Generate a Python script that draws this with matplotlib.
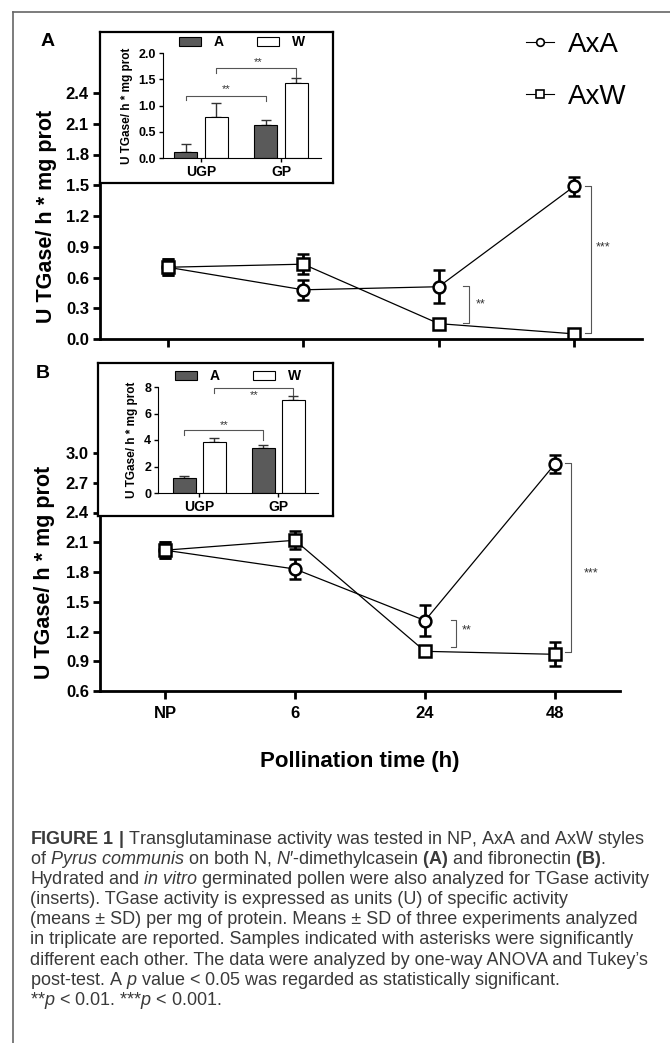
import numpy as np
import matplotlib
matplotlib.use('Agg')
import matplotlib.pyplot as plt
from matplotlib.lines import Line2D
from matplotlib.patches import Patch
from matplotlib import font_manager

names = {f.name for f in font_manager.fontManager.ttflist}
cap_font = 'Liberation Sans Narrow' if 'Liberation Sans Narrow' in names else 'Liberation Sans'

plt.rcParams['font.family'] = ['Liberation Sans', 'DejaVu Sans']
plt.rcParams['mathtext.fontset'] = 'custom'
plt.rcParams['mathtext.rm'] = cap_font
plt.rcParams['mathtext.it'] = cap_font + ':italic'
plt.rcParams['mathtext.bf'] = cap_font + ':bold'

# time course, panel A (dimethylcasein) and B (fibronectin)
times = ['NP', '6', '24', '48']
axa_A = [0.70, 0.48, 0.51, 1.49]
axa_A_sd = [0.08, 0.10, 0.16, 0.09]
axw_A = [0.70, 0.73, 0.15, 0.05]
axw_A_sd = [0.08, 0.10, 0.03, 0.02]
axa_B = [2.02, 1.83, 1.31, 2.89]
axa_B_sd = [0.08, 0.10, 0.16, 0.09]
axw_B = [2.02, 2.12, 1.00, 0.97]
axw_B_sd = [0.08, 0.09, 0.03, 0.12]

# inserts (pollen)
groups = ['UGP', 'GP']
insA_a = [0.12, 0.63]
insA_a_sd = [0.14, 0.09]
insA_w = [0.79, 1.43]
insA_w_sd = [0.25, 0.10]
insB_a = [1.10, 3.43]
insB_a_sd = [0.15, 0.20]
insB_w = [3.88, 7.03]
insB_w_sd = [0.25, 0.30]

W, H = 670, 1043
fig = plt.figure(figsize=(W / 100, H / 100), dpi=100)


def rect(x0, y0, x1, y1):
    # pixel box (top-left origin) -> figure fraction
    return [x0 / W, 1 - y1 / H, (x1 - x0) / W, (y1 - y0) / H]


ylab = 'U TGase/ h * mg prot'
x = np.arange(len(times))


def main_panel(ax, axa, axa_sd, axw, axw_sd, ylim, ticks, labx):
    kw = dict(color='black', lw=0.9, mfc='white', mec='black', mew=1.8,
              ecolor='black', elinewidth=2, capsize=4, capthick=2)
    ax.errorbar(x, axa, yerr=axa_sd, fmt='-o', ms=8.5, **kw)
    ax.errorbar(x, axw, yerr=axw_sd, fmt='-s', ms=8, **kw)
    ax.set_xlim(-0.5, 3.5)
    ax.set_ylim(*ylim)
    ax.set_yticks(ticks)
    ax.set_yticklabels(['%.1f' % t for t in ticks])
    ax.set_xticks(x)
    ax.set_xticklabels(times if labx else [])
    for s in ['top', 'right']:
        ax.spines[s].set_visible(False)
    for s in ['left', 'bottom']:
        ax.spines[s].set_linewidth(2)
    ax.tick_params(width=2, length=5, labelsize=12, pad=3)
    ax.tick_params(axis='x', length=6, pad=5)
    for t in ax.get_xticklabels() + ax.get_yticklabels():
        t.set_fontweight('bold')
    ax.set_ylabel(ylab, fontsize=15.5, fontweight='bold')


def bracket(ax, x0, x1, y0, y1, xt, yt, txt, size):
    ax.plot([x0 - 0.04, x0, x0, x0 - 0.04], [y0, y0, y1, y1], color='#555555', lw=0.8)
    ax.text(xt, yt, txt, fontsize=size, color='#333333', ha='center', va='center')


def inset(frame_box, ax_box, a, a_sd, w, w_sd, ylim, ticks, fmt, xlim, br):
    fr = fig.add_axes(rect(*frame_box))
    fr.set_xticks([])
    fr.set_yticks([])
    for s in fr.spines.values():
        s.set_linewidth(1.6)
    ia = fig.add_axes(rect(*ax_box))
    g = np.arange(len(groups))
    ia.bar(g - 0.19, a, 0.29, color='#5a5a5a', edgecolor='black', lw=0.8, zorder=2)
    ia.bar(g + 0.19, w, 0.29, color='white', edgecolor='black', lw=0.8, zorder=2)
    ia.errorbar(g - 0.19, a, yerr=[np.zeros(2), a_sd], fmt='none', ecolor='#333333',
                elinewidth=1, capsize=3.5, capthick=1, zorder=1)
    ia.errorbar(g + 0.19, w, yerr=[np.zeros(2), w_sd], fmt='none', ecolor='#333333',
                elinewidth=1, capsize=3.5, capthick=1, zorder=1)
    ia.set_xlim(*xlim)
    ia.set_ylim(*ylim)
    ia.set_yticks(ticks)
    ia.set_yticklabels([fmt % t for t in ticks])
    ia.set_xticks(g)
    ia.set_xticklabels(groups)
    for s in ['top', 'right']:
        ia.spines[s].set_visible(False)
    ia.tick_params(width=1, length=3, labelsize=9, pad=2)
    ia.tick_params(axis='x', labelsize=10)
    for t in ia.get_xticklabels() + ia.get_yticklabels():
        t.set_fontweight('bold')
    ia.set_ylabel(ylab, fontsize=8.5, fontweight='bold')
    handles = [Patch(facecolor='#5a5a5a', edgecolor='black', lw=0.8),
               Patch(facecolor='white', edgecolor='black', lw=0.8)]
    ia.legend(handles, ['A', 'W'], ncol=2, loc='lower center', bbox_to_anchor=(0.5, 0.97),
              frameon=False, prop={'weight': 'bold', 'size': 10}, handlelength=1.6,
              handleheight=0.6, columnspacing=2.4, handletextpad=0.9, borderpad=0)
    for (x0, x1, y0, y1a, y1b, xt, yt) in br:
        ia.plot([x0, x0, x1, x1], [y1a, y0, y0, y1b], color='#555555', lw=0.8)
        ia.text(xt, yt, '**', fontsize=8, color='#333333', ha='center', va='center')
    return ia


# panel A
axA = fig.add_axes(rect(100, 93, 642, 339))
main_panel(axA, axa_A, axa_A_sd, axw_A, axw_A_sd, (0, 2.4), np.arange(0, 2.41, 0.3), False)
axA.yaxis.set_label_coords(-0.079, 0.5)
bracket(axA, 2.22, 2.22, 0.52, 0.16, 2.31, 0.34, '**', 9)
bracket(axA, 3.12, 3.12, 1.49, 0.06, 3.21, 0.89, '***', 9)

# panel B
axB = fig.add_axes(rect(100, 453, 620, 691))
main_panel(axB, axa_B, axa_B_sd, axw_B, axw_B_sd, (0.6, 3.0), np.arange(0.6, 3.01, 0.3), True)
axB.yaxis.set_label_coords(-0.087, 0.5)
bracket(axB, 2.24, 2.24, 1.32, 1.04, 2.32, 1.21, '**', 9)
bracket(axB, 3.12, 3.12, 2.90, 0.99, 3.28, 1.79, '***', 9)

inset((100, 32, 333, 183), (163, 53, 321, 158), insA_a, insA_a_sd, insA_w, insA_w_sd,
      (0, 2.0), np.arange(0, 2.01, 0.5), '%.1f', (-0.475, 1.5),
      [(-0.19, 0.81, 1.18, 1.10, 1.09, 0.31, 1.31),
       (0.19, 1.19, 1.71, 1.62, 1.54, 0.71, 1.83)])
inset((98, 363, 333, 516), (158, 387, 318, 493), insB_a, insB_a_sd, insB_w, insB_w_sd,
      (0, 8), np.arange(0, 8.1, 2), '%d', (-0.52, 1.5),
      [(-0.19, 0.81, 4.75, 4.38, 4.0, 0.31, 5.15),
       (0.19, 1.19, 7.92, 7.55, 7.38, 0.70, 7.4)])

# main legend
lh = [Line2D([], [], color='black', lw=0.8, marker='o', ms=5.5, mfc='white', mec='black', mew=1.2),
      Line2D([], [], color='black', lw=0.8, marker='s', ms=5.5, mfc='white', mec='black', mew=1.2)]
fig.legend(lh, ['AxA', 'AxW'], loc='center left', bbox_to_anchor=(512 / W, 1 - 71 / H),
           frameon=False, fontsize=20, handlelength=1.0, handletextpad=0.5,
           labelspacing=0.95, borderpad=0)

fig.text(48 / W, 1 - 42 / H, 'A', fontsize=14, fontweight='bold', ha='center', va='center')
fig.text(43 / W, 1 - 373 / H, 'B', fontsize=14, fontweight='bold', ha='center', va='center')
fig.text(360 / W, 1 - 762 / H, 'Pollination time (h)', fontsize=16, fontweight='bold',
         ha='center', va='center')

# frame around the figure
fig.add_artist(Line2D([13 / W, 1], [1 - 11.5 / H, 1 - 11.5 / H], color='#666666', lw=1.2))
fig.add_artist(Line2D([13.3 / W, 13.3 / W], [1 - 11.5 / H, 0], color='#666666', lw=1.2))

caption = [
    r"$\mathbf{FIGURE\ 1\ |}$ Transglutaminase activity was tested in NP, AxA and AxW styles",
    r"of $\mathit{Pyrus\ communis}$ on both N, $\mathit{N}$′-dimethylcasein $\mathbf{(A)}$ and fibronectin $\mathbf{(B)}$.",
    r"Hydrated and $\mathit{in\ vitro}$ germinated pollen were also analyzed for TGase activity",
    "(inserts). TGase activity is expressed as units (U) of specific activity",
    "(means ± SD) per mg of protein. Means ± SD of three experiments analyzed",
    "in triplicate are reported. Samples indicated with asterisks were significantly",
    "different each other. The data were analyzed by one-way ANOVA and Tukey’s",
    r"post-test. A $\mathit{p}$ value < 0.05 was regarded as statistically significant.",
    r"**$\mathit{p}$ < 0.01. ***$\mathit{p}$ < 0.001.",
]
for i, line in enumerate(caption):
    fig.text(30 / W, 1 - (839 + 20.2 * i) / H, line, fontsize=13, family=cap_font,
             color='#3a3a3a', ha='left', va='center')

fig.savefig('out.png', dpi=100)
